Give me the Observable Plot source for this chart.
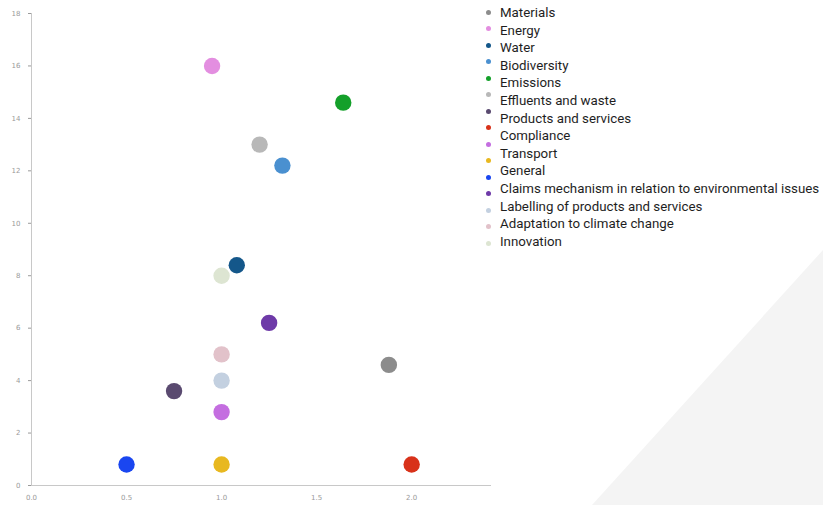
<!DOCTYPE html>
<html>
<head>
<meta charset="utf-8">
<script src="https://cdn.jsdelivr.net/npm/d3@7"></script>
<script src="https://cdn.jsdelivr.net/npm/@observablehq/plot@0.6"></script>
<style>
  html, body { margin: 0; padding: 0; background: #fff; }
  #wrap { position: relative; width: 823px; height: 505px; overflow: hidden; font-family: Roboto, "Open Sans", sans-serif; }
  #tri { position: absolute; left: 0; top: 0; width: 823px; height: 505px; background: #f4f4f4;
         clip-path: polygon(592px 505px, 823px 250px, 823px 505px); }
  #chart { position: absolute; left: 0; top: 0; }
  #legend { position: absolute; left: 482px; top: 0; }
  .ldot { position: absolute; width: 5px; height: 5px; border-radius: 50%; left: 3.5px; }
  .ltxt { position: absolute; left: 18px; white-space: nowrap; font-size: 13.3px; color: #1e1e1e; line-height: 14px; }
</style>
</head>
<body>
<div id="wrap">
  <div id="tri"></div>
  <div id="chart"></div>
  <div id="legend"></div>
</div>
<script>
// Series names (legend order); last series has no label in the reference
const categories = ["Materials", "Energy", "Water", "Biodiversity", "Emissions", "Effluents and waste",
  "Products and services", "Compliance", "Transport", "General",
  "Claims mechanism in relation to environmental issues", "Labelling of products and services",
  "Adaptation to climate change", "Innovation", ""];
const xValues = [1.88, 0.95, 1.08, 1.32, 1.64, 1.20, 0.75, 2.00, 1.00, 1.00, 0.50, 1.25, 1.00, 1.00, 1.00];
const yValues = [4.6, 16.0, 8.4, 12.2, 14.6, 13.0, 3.6, 0.8, 2.8, 0.8, 0.8, 6.2, 4.0, 5.0, 8.0];
const colors = ["#8c8c8c", "#e38ee0", "#14578a", "#4a90d0", "#14a02a", "#b8b8b8", "#5a4a70", "#d8321a",
  "#c46ee0", "#e8b820", "#1a46f0", "#6e3aa8", "#c3d0e0", "#e2c2ca", "#dde5d2"];
const xTicks = [0, 0.5, 1, 1.5, 2];
const yTicks = [0, 2, 4, 6, 8, 10, 12, 14, 16, 18];

const data = categories.map((c, i) => ({ id: i, name: c, x: xValues[i], y: yValues[i] }));

const chart = Plot.plot({
  width: 500,
  height: 505,
  marginLeft: 31,
  marginRight: 9,
  marginTop: 13,
  marginBottom: 20,
  style: { background: "transparent", fontFamily: "'DejaVu Sans', sans-serif", fontSize: "7px", color: "#9a9a9a" },
  x: { domain: [0, 2.42], ticks: xTicks, tickFormat: d3.format(".1f"), tickSize: 0, tickPadding: 10, label: null },
  y: { domain: [0, 18], ticks: yTicks, tickSize: 3, tickPadding: 8, label: null },
  color: { type: "ordinal", domain: d3.range(categories.length), range: colors },
  marks: [
    Plot.ruleX([0], { stroke: "#c8c8c8", y1: 0, y2: 18 }),
    Plot.ruleY([0], { stroke: "#c8c8c8" }),
    Plot.dot(data, { x: "x", y: "y", fill: "id", r: 8.2, stroke: null })
  ]
});
document.getElementById("chart").appendChild(chart);

// Legend (HTML)
const legend = document.getElementById("legend");
categories.forEach((c, i) => {
  const d = document.createElement("div");
  d.className = "ldot";
  d.style.top = (9.5 + i * 16.5) + "px";
  d.style.background = colors[i];
  legend.appendChild(d);
  if (c) {
    const t = document.createElement("div");
    t.className = "ltxt";
    t.style.top = (6 + i * 17.6) + "px";
    t.textContent = c;
    legend.appendChild(t);
  }
});
</script>
</body>
</html>
